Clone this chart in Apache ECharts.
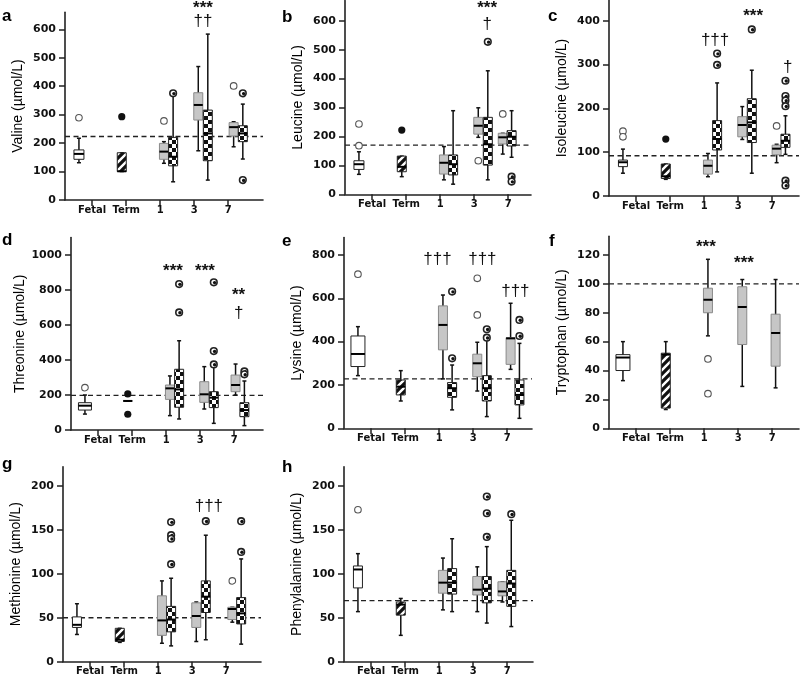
<!DOCTYPE html>
<html>
<head>
<meta charset="utf-8">
<script src="https://cdn.jsdelivr.net/npm/echarts@6/dist/echarts.min.js"></script>
<style>
  html, body { margin: 0; padding: 0; background: #fff; }
  #chart { width: 800px; height: 681px; }
</style>
</head>
<body>
<div id="chart"></div>
<script>
// group labels on the x axis
const groupLabels = ['Fetal', 'Term', '1', '3', '7'];

// box order: fetal, term, day1 gray, day1 checker, day3 gray, day3 checker, day7 gray, day7 checker
// each box = [low whisker, q1, median, q3, high whisker]
const valineBox = [[131,143,162,176,217],[100,100,101,166,166],[129,143,170,199,205],[64,120,152,220,365],
  [173,281,334,377,469],[70,138,234,316,583],[187,225,256,272,275],[144,205,234,261,337]];
const valineOut = [[289],[293],[278],[375],[],[],[401],[375,70]];
const valineRef = 223;
const valineTicks = [0,100,200,300,400,500,600];

const leucineBox = [[69,86,104,116,147],[61,78,95,132,132],[50,70,109,136,165],[35,67,104,136,289],
  [197,208,237,266,299],[50,101,173,266,427],[139,174,197,211,211],[128,167,199,220,289]];
const leucineOut = [[243,168],[222],[],[],[116],[527],[278],[61,44]];
const leucineRef = 170;
const leucineTicks = [0,100,200,300,400,500,600];

const isoleucineBox = [[52,67,77,82,107],[38,40,45,73,73],[44,50,69,82,97],[55,105,130,172,258],
  [129,135,162,181,204],[52,122,168,222,287],[76,94,108,116,118],[95,111,126,141,183]];
const isoleucineOut = [[148,135],[130],[],[325,299],[],[380],[160],[263,228,218,205,35,24]];
const isoleucineRef = 92;
const isoleucineTicks = [0,100,200,300,400];

const threonineBox = [[91,114,139,156,200],[166,166,166,166,166],[82,175,238,257,309],[63,130,232,347,510],
  [120,158,204,276,362],[38,128,185,219,370],[200,219,257,314,377],[25,76,114,156,280]];
const threonineOut = [[242],[206,90],[],[834,672],[],[844,451,375],[],[335,318]];
const threonineRef = 198;
const threonineTicks = [0,200,400,600,800,1000];

const lysineBox = [[243,285,343,426,469],[126,154,192,223,266],[228,362,477,565,615],[85,143,185,211,292],
  [172,238,300,342,397],[54,126,185,243,408],[272,295,415,418,577],[46,108,154,223,392]];
const lysineOut = [[711],[],[],[631,323],[692,523],[457,418],[],[500,426]];
const lysineRef = 228;
const lysineTicks = [0,200,400,600,800];

const tryptophanBox = [[33,40,49,51,60],[13,14,51,52,60],[64,80,89,97,117],null,
  [29,58,84,98,103],null,[28,43,66,79,103],null];
const tryptophanOut = [[],[],[48,24],[],[],[],[],[]];
const tryptophanRef = 100;
const tryptophanTicks = [0,20,40,60,80,100,120];

const methionineBox = [[31,39,42,51,66],[22,23,25,38,38],[21,30,47,75,92],[18,34,48,63,95],
  [23,39,52,67,68],[25,56,74,92,144],[45,48,60,62,62],[20,43,55,73,117]];
const methionineOut = [[],[],[],[159,144,140,111],[],[160],[92],[160,125]];
const methionineRef = 50;
const methionineTicks = [0,50,100,150,200];

const phenylalanineBox = [[57,84,105,109,123],[30,53,65,68,72],[59,78,90,104,118],[57,77,90,106,140],
  [57,76,82,97,108],[44,67,83,97,131],[68,75,80,91,91],[40,63,89,104,161]];
const phenylalanineOut = [[173],[],[],[],[],[188,169,142],[],[168]];
const phenylalanineRef = 69.5;
const phenylalanineTicks = [0,50,100,150,200];

// significance marks: [x, y, text]
const valineSig = [[4.26,685,'***'],[4.26,629,'††']];
const leucineSig = [[4.38,656,'***'],[4.38,589,'†']];
const isoleucineSig = [[3.32,356,'†††'],[4.44,418,'***'],[5.46,294,'†']];
const threonineSig = [[3.2,926,'***'],[4.14,926,'***'],[5.13,789,'**'],[5.13,666,'†']];
const lysineSig = [[2.95,782,'†††'],[4.27,782,'†††'],[5.24,634,'†††']];
const tryptophanSig = [[3.05,128,'***'],[4.17,116.5,'***']];
const methionineSig = [[4.49,177,'†††']];
const phenylalanineSig = [];

// layout
const X_MIN = 0.2, X_UNIT = 34;
const boxX = [0.61, 1.87, 3.11, 3.38, 4.12, 4.4, 5.13, 5.39];
const boxKind = [0, 1, 2, 3, 2, 3, 2, 3];   // 0 white, 1 hatched, 2 gray, 3 checker
const outKind = [0, 1, 0, 2, 0, 2, 0, 2];   // 0 open, 1 filled, 2 half

const panels = [
  { box: valineBox, out: valineOut, ref: valineRef, ticks: valineTicks, sig: valineSig, name: 'Valine (µmol/L)', letter: 'a',
    left: 65, top: 12.2, width: 198, height: 187.8, ymax: 660, lx: 2, ly: 22, fw: 10, d7: [5.16, 5.43] },
  { box: leucineBox, out: leucineOut, ref: leucineRef, ticks: leucineTicks, sig: leucineSig, name: 'Leucine (µmol/L)', letter: 'b',
    left: 345, top: 0.5, width: 186, height: 193.8, ymax: 670, lx: 282, ly: 23, fw: 10, d7: [4.84, 5.1] },
  { box: isoleucineBox, out: isoleucineOut, ref: isoleucineRef, ticks: isoleucineTicks, sig: isoleucineSig, name: 'Isoleucine (µmol/L)', letter: 'c',
    left: 609, top: 0.1, width: 190, height: 195.9, ymax: 447, lx: 548, ly: 22, fw: 9, d7: [5.13, 5.39] },
  { box: threonineBox, out: threonineOut, ref: threonineRef, ticks: threonineTicks, sig: threonineSig, name: 'Threonine (µmol/L)', letter: 'd',
    left: 71, top: 237.5, width: 192, height: 192.5, ymax: 1100, lx: 2, ly: 246, fw: 13, d7: [5.04, 5.3] },
  { box: lysineBox, out: lysineOut, ref: lysineRef, ticks: lysineTicks, sig: lysineSig, name: 'Lysine (µmol/L)', letter: 'e',
    left: 344, top: 237.6, width: 188, height: 190.7, ymax: 880, lx: 282, ly: 247, fw: 14, d7: [5.1, 5.36] },
  { box: tryptophanBox, out: tryptophanOut, ref: tryptophanRef, ticks: tryptophanTicks, sig: tryptophanSig, name: 'Tryptophan (µmol/L)', letter: 'f',
    left: 609, top: 236.2, width: 190, height: 192.1, ymax: 133, lx: 549, ly: 247, fw: 14, d7: [5.1, 5.36] },
  { box: methionineBox, out: methionineOut, ref: methionineRef, ticks: methionineTicks, sig: methionineSig, name: 'Methionine (µmol/L)', letter: 'g',
    left: 63, top: 466.7, width: 198, height: 195, ymax: 222, lx: 2, ly: 470, fw: 9, d7: [5.18, 5.44] },
  { box: phenylalanineBox, out: phenylalanineOut, ref: phenylalanineRef, ticks: phenylalanineTicks, sig: phenylalanineSig, name: 'Phenylalanine (µmol/L)', letter: 'h',
    left: 344, top: 466.7, width: 189, height: 195, ymax: 222, lx: 282, ly: 473, fw: 9, d7: [4.86, 5.12] }
];

// fill patterns
function makePattern(draw) {
  const c = document.createElement('canvas');
  c.width = 8; c.height = 8;
  draw(c.getContext('2d'));
  return { image: c, repeat: 'repeat' };
}
const hatchFill = makePattern(g => {
  g.fillStyle = '#111'; g.fillRect(0, 0, 8, 8);
  g.strokeStyle = '#fff'; g.lineWidth = 2.4;
  g.beginPath();
  g.moveTo(-2, 10); g.lineTo(10, -2);
  g.moveTo(-2, 2); g.lineTo(2, -2);
  g.moveTo(6, 10); g.lineTo(10, 6);
  g.stroke();
});
const checkFill = makePattern(g => {
  g.fillStyle = '#fff'; g.fillRect(0, 0, 8, 8);
  g.fillStyle = '#111'; g.fillRect(0, 0, 4, 4); g.fillRect(4, 4, 4, 4);
});
const boxFills = ['#fff', hatchFill, '#c6c6c6', checkFill];

function renderBox(params, api) {
  const x = api.value(0);
  const p = v => api.coord([x, v]);
  const cx = p(api.value(1))[0];
  const yLo = p(api.value(1))[1], yQ1 = p(api.value(2))[1], yMed = p(api.value(3))[1];
  const yQ3 = p(api.value(4))[1], yHi = p(api.value(5))[1];
  const kind = api.value(6), w = api.value(7);
  const wl = { stroke: '#111', lineWidth: 1.5 };
  const ch = [
    { type: 'line', shape: { x1: cx, y1: yHi, x2: cx, y2: yLo }, style: wl },
    { type: 'line', shape: { x1: cx - 2, y1: yHi, x2: cx + 2, y2: yHi }, style: wl },
    { type: 'line', shape: { x1: cx - 2, y1: yLo, x2: cx + 2, y2: yLo }, style: wl },
    { type: 'rect', shape: { x: cx - w / 2, y: yQ3, width: w, height: yQ1 - yQ3 },
      style: { fill: boxFills[kind], stroke: kind === 2 ? '#8a8a8a' : '#222', lineWidth: 1 } },
    { type: 'line', shape: { x1: cx - w / 2, y1: yMed, x2: cx + w / 2, y2: yMed }, style: { stroke: '#000', lineWidth: 2 } }
  ];
  return { type: 'group', children: ch };
}

function renderOut(params, api) {
  const [px, py] = api.coord([api.value(0), api.value(1)]);
  const kind = api.value(2);
  if (kind === 1) {
    return { type: 'circle', shape: { cx: px, cy: py, r: 3.6 }, style: { fill: '#111' } };
  }
  const ring = { type: 'circle', shape: { cx: px, cy: py, r: 3.3 },
    style: { fill: '#fff', stroke: kind === 2 ? '#222' : '#555', lineWidth: kind === 2 ? 1.6 : 1.1 } };
  if (kind === 0) return ring;
  return { type: 'group', children: [ring,
    { type: 'circle', shape: { cx: px + 0.8, cy: py + 0.3, r: 1.7 }, style: { fill: '#111' } }] };
}

const grids = [], xAxes = [], yAxes = [], series = [], graphics = [];
const axisColor = '#222';

panels.forEach((pn, i) => {
  const xmax = X_MIN + pn.width / X_UNIT;
  const pos = boxX.slice(0, 6).concat(pn.d7);
  grids.push({ left: pn.left, top: pn.top, width: pn.width, height: pn.height, outerBoundsMode: 'none' });
  xAxes.push({
    gridIndex: i, type: 'value', min: X_MIN, max: xmax,
    axisLine: { show: true, onZero: false, lineStyle: { color: axisColor, width: 1.6 } },
    axisTick: { show: true, customValues: [1, 2, 3, 4, 5], length: 6, lineStyle: { color: axisColor, width: 1.5 } },
    axisLabel: { show: true, customValues: [1, 2, 3, 4, 5], formatter: v => groupLabels[Math.round(v) - 1],
      margin: 5, fontFamily: 'DejaVu Sans', fontWeight: 'bold', fontSize: 10, color: '#111' },
    splitLine: { show: false }
  });
  yAxes.push({
    gridIndex: i, type: 'value', min: 0, max: pn.ymax,
    name: pn.name, nameLocation: 'middle', nameGap: 40,
    nameTextStyle: { fontFamily: 'Liberation Sans', fontSize: 14, color: '#000' },
    axisLine: { show: true, lineStyle: { color: axisColor, width: 1.6 } },
    axisTick: { show: true, customValues: pn.ticks, length: 6, lineStyle: { color: axisColor, width: 1.5 } },
    axisLabel: { show: true, customValues: pn.ticks, margin: 9, formatter: v => String(v),
      fontFamily: 'DejaVu Sans', fontWeight: 'bold', fontSize: 11, color: '#111' },
    splitLine: { show: false }
  });

  const boxData = [];
  pn.box.forEach((b, k) => {
    if (b) boxData.push([pos[k], ...b, boxKind[k], k === 0 ? pn.fw : 9]);
  });
  const outData = [];
  pn.out.forEach((arr, k) => arr.forEach(v => outData.push([pos[k], v, outKind[k]])));

  series.push({
    type: 'line', xAxisIndex: i, yAxisIndex: i, silent: true, symbol: 'none',
    data: [[X_MIN, pn.ref], [xmax, pn.ref]],
    lineStyle: { color: '#222', width: 1.4, type: [5, 3.5] }, z: 1
  });
  series.push({
    type: 'custom', xAxisIndex: i, yAxisIndex: i, silent: true,
    encode: { x: 0, y: [1, 2, 3, 4, 5] },
    data: boxData, renderItem: renderBox, z: 2
  });
  series.push({
    type: 'custom', xAxisIndex: i, yAxisIndex: i, silent: true,
    encode: { x: 0, y: 1 },
    data: outData, renderItem: renderOut, z: 3
  });
  const sig = pn.sig;
  series.push({
    type: 'custom', xAxisIndex: i, yAxisIndex: i, silent: true, clip: false,
    encode: { x: 0, y: 1 },
    data: sig.map(s => [s[0], s[1]]),
    renderItem: (params, api) => {
      const [px, py] = api.coord([api.value(0), api.value(1)]);
      const t = sig[params.dataIndex][2];
      const star = t.indexOf('*') >= 0;
      return { type: 'text', x: px, y: py + (star ? 3.5 : 0),
        style: { text: t, fill: '#111', font: (star ? 'bold ' : '') + '17px "Liberation Sans"',
          align: 'center', verticalAlign: 'middle' } };
    },
    z: 4
  });

  graphics.push({ type: 'text', left: pn.lx, top: pn.ly - 14,
    style: { text: pn.letter, font: 'bold 17px "Liberation Sans"', fill: '#000' } });
});

const chart = echarts.init(document.getElementById('chart'));
chart.setOption({
  animation: false,
  backgroundColor: '#fff',
  grid: grids,
  xAxis: xAxes,
  yAxis: yAxes,
  series: series,
  graphic: graphics
});
</script>
</body>
</html>
